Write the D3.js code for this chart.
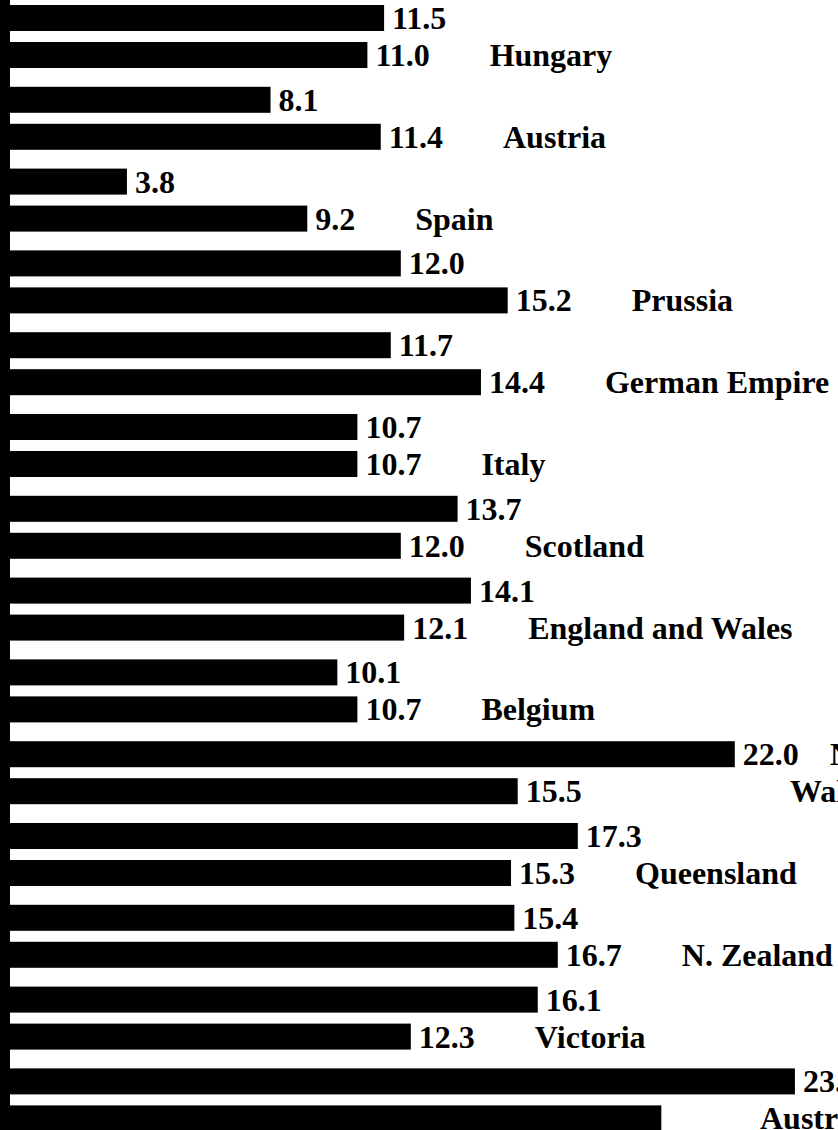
<!DOCTYPE html>
<html>
<head>
<meta charset="utf-8">
<script src="https://cdn.jsdelivr.net/npm/d3@7"></script>
<style>
  html, body { margin: 0; padding: 0; background: #fff; overflow: hidden; }
  svg { display: block; }
  text { font-family: "Liberation Serif", "Times New Roman", serif; font-weight: bold; fill: #000; }
</style>
</head>
<body>
<script>
// ---- data ----
const countries = ["Hungary", "Austria", "Spain", "Prussia", "German Empire", "Italy", "Scotland",
  "England and Wales", "Belgium", "New South Wales", "Queensland", "N. Zealand", "Victoria", "Australasia"];
const firstValues  = [11.5, 8.1, 3.8, 12.0, 11.7, 10.7, 13.7, 14.1, 10.1, 22.0, 17.3, 15.4, 16.1, 23.8];
const secondValues = [11.0, 11.4, 9.2, 15.2, 14.4, 10.7, 12.0, 12.1, 10.7, 15.5, 15.3, 16.7, 12.3, 19.8];
const firstLabels  = ["11.5", "8.1", "3.8", "12.0", "11.7", "10.7", "13.7", "14.1", "10.1", "22.0", "17.3", "15.4", "16.1", "23.8"];
const secondLabels = ["11.0", "11.4", "9.2", "15.2", "14.4", "10.7", "12.0", "12.1", "10.7", "15.5", "15.3", "16.7", "12.3", ""];

// ---- layout ----
const W = 838, H = 1130;
const fontSize = 32;
const valueGap = 8, nameGap = 60;
// special placement of a few country names (line texts and shift in px)
const nameOverrides = {
  "New South Wales": { lines: [{ text: "New South", row: 0, x: 830 }, { text: "Wales", row: 1, x: 790 }] },
  "Australasia": { lines: [{ text: "Australasia", row: 1, x: 760 }] }
};

const svg = d3.select("body").append("svg").attr("width", W).attr("height", H);

const x = d3.scaleLinear().domain([0, 25]).range([0, 835]);
const pairStep = 81.8;
const y = d3.scaleBand().domain(d3.range(countries.length))
  .range([5, 5 + pairStep * countries.length]).paddingInner(0).paddingOuter(0);
const inner = d3.scaleBand().domain([0, 1]).range([0, 63]).paddingInner(0.297).paddingOuter(0);

const rows = [];
countries.forEach((c, i) => {
  rows.push({ i, sub: 0, v: firstValues[i], label: firstLabels[i] });
  rows.push({ i, sub: 1, v: secondValues[i], label: secondLabels[i] });
});

// axis line
svg.append("rect").attr("x", x(0)).attr("y", 0).attr("width", 10).attr("height", H).attr("fill", "#000");

// bars
svg.append("g").selectAll("rect").data(rows).join("rect")
  .attr("x", x(0))
  .attr("y", d => y(d.i) + inner(d.sub))
  .attr("width", d => x(d.v) - x(0))
  .attr("height", inner.bandwidth())
  .attr("fill", "#000");

const cy = d => y(d.i) + inner(d.sub) + inner.bandwidth() / 2;

// value labels
const vl = svg.append("g").selectAll("text").data(rows).join("text")
  .attr("x", d => x(d.v) + valueGap)
  .attr("y", d => cy(d) + 11)
  .attr("font-size", fontSize)
  .text(d => d.label);

const labelEnd = {};
vl.each(function (d) {
  if (d.sub === 1) labelEnd[d.i] = x(d.v) + valueGap + this.getComputedTextLength();
});

// country names
const ng = svg.append("g");
countries.forEach((c, i) => {
  const ov = nameOverrides[c];
  const lines = ov ? ov.lines : [{ text: c, row: 1, x: labelEnd[i] + nameGap }];
  lines.forEach(l => {
    ng.append("text")
      .attr("x", l.x)
      .attr("y", y(i) + inner(l.row) + inner.bandwidth() / 2 + 11)
      .attr("font-size", fontSize)
      .text(l.text);
  });
});
</script>
</body>
</html>
